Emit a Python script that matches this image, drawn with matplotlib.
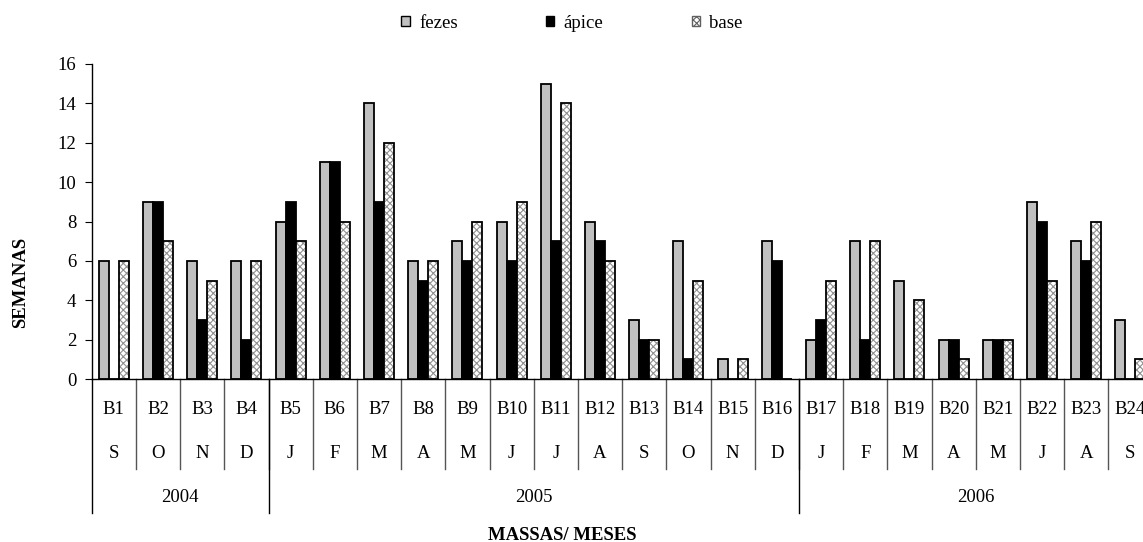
import numpy as np
import matplotlib.pyplot as plt
from matplotlib.patches import Patch

plt.rcParams['font.family'] = ['Liberation Serif', 'DejaVu Serif']
plt.rcParams['hatch.linewidth'] = 0.8

massas = ['B%d' % i for i in range(1, 25)]
meses = ['S', 'O', 'N', 'D', 'J', 'F', 'M', 'A', 'M', 'J', 'J', 'A',
         'S', 'O', 'N', 'D', 'J', 'F', 'M', 'A', 'M', 'J', 'A', 'S']
anos = ['2004', '2005', '2006']
anos_n = [4, 12, 8]

fezes = [6, 9, 6, 6, 8, 11, 14, 6, 7, 8, 15, 8, 3, 7, 1, 7, 2, 7, 5, 2, 2, 9, 7, 3]
apice = [0, 9, 3, 2, 9, 11, 9, 5, 6, 6, 7, 7, 2, 1, 0, 6, 3, 2, 0, 2, 2, 8, 6, 0]
base = [6, 7, 5, 6, 7, 8, 12, 6, 8, 9, 14, 6, 2, 5, 1, 0, 5, 7, 4, 1, 2, 5, 8, 1]

fs = 13.5

fig = plt.figure(figsize=(11.43, 5.42), dpi=100)
# plot area runs a little past the right edge, so the last group is cut
ax = fig.add_axes([91.7 / 1143, 1 - 379 / 542, 24 * 44.2 / 1143, 315 / 542])

x = np.arange(len(massas))
w = 0.226
ax.bar(x - w, fezes, w, color='#c0c0c0', edgecolor='black', linewidth=1.3)
ax.bar(x, apice, w, color='black', edgecolor='black', linewidth=1.3)
# hatched fill first, then a black outline on top
ax.bar(x + w, base, w, color='white', edgecolor='#909090', hatch='xxxxx', linewidth=0)
ax.bar(x + w, base, w, fill=False, edgecolor='black', linewidth=1.3)

ax.set_xlim(-0.5, len(massas) - 0.5)
ax.set_ylim(0, 16)
ax.set_yticks(range(0, 17, 2))
ax.tick_params(axis='y', labelsize=fs, length=5, direction='out', pad=6)
ax.set_xticks([])
for s in ['top', 'right']:
    ax.spines[s].set_visible(False)
ax.spines['left'].set_linewidth(1)
ax.spines['bottom'].set_linewidth(1)

# multi-level category axis
tr = ax.get_xaxis_transform()
for i in range(len(massas)):
    ax.text(i, -0.098, massas[i], transform=tr, ha='center', va='center', fontsize=fs)
    ax.text(i, -0.238, meses[i], transform=tr, ha='center', va='center', fontsize=fs)
for i in range(1, len(massas)):
    ax.plot([i - 0.5, i - 0.5], [0, -0.286], transform=tr, color='#555555',
            linewidth=1, clip_on=False)
start = 0
for ano, n in zip(anos, anos_n):
    ax.plot([start - 0.5, start - 0.5], [0, -0.425], transform=tr, color='black',
            linewidth=1, clip_on=False)
    ax.text(start + n / 2 - 0.5, -0.375, ano, transform=tr, ha='center', va='center',
            fontsize=fs)
    start += n

fig.text(562 / 1143, 1 - 535 / 542, 'MASSAS/ MESES', ha='center', va='center',
         fontsize=fs, fontweight='bold')
fig.text(21 / 1143, 1 - 282 / 542, 'SEMANAS', ha='center', va='center',
         rotation=90, fontsize=fs, fontweight='bold')

handles = [
    Patch(facecolor='#c0c0c0', edgecolor='black', linewidth=1),
    Patch(facecolor='black', edgecolor='black', linewidth=1),
    Patch(facecolor='white', edgecolor='#606060', hatch='xxxxx', linewidth=1),
]
fig.legend(handles, ['fezes', 'ápice', 'base'], loc='center', ncol=3,
           bbox_to_anchor=(572 / 1143, 1 - 23 / 542), frameon=False, fontsize=fs,
           handlelength=0.45, handleheight=0.45, handletextpad=0.5,
           columnspacing=4.7)

fig.savefig('out.png', dpi=100)
